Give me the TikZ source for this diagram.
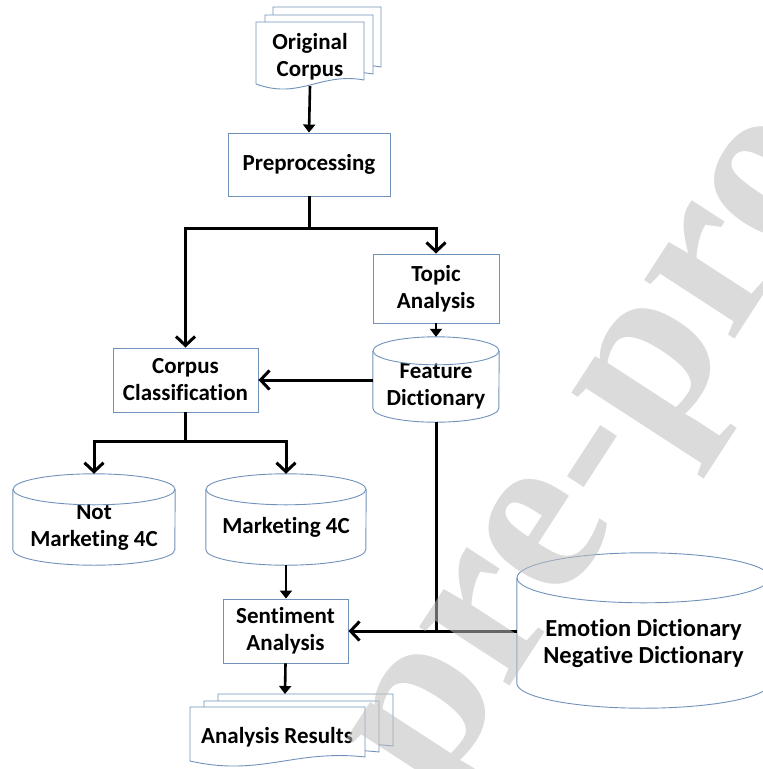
\documentclass[tikz,border=0pt]{standalone}
\usepackage{fontspec}
\setmainfont{Carlito}[Ligatures=NoCommon]
\newfontfamily\wmfont{Liberation Serif}
\usepackage{tikz}
\usetikzlibrary{arrows.meta}
\usetikzlibrary{calc}
\definecolor{edgeblue}{RGB}{112,146,186}
\definecolor{wmgray}{RGB}{189,189,189}

\tikzset{
  stepbox/.style={draw=edgeblue,line width=0.9pt,align=center,inner sep=0pt,
    font=\bfseries\fontsize{23}{27}\selectfont},
  drum/.style={align=center,inner sep=0pt,font=\bfseries\fontsize{23}{27}\selectfont},
  flow/.style={line width=3pt,-{Straight Barb[length=9pt,width=19pt]}},
  short/.style={line width=2.6pt,-{Triangle[length=8pt,width=12pt]}},
  link/.style={line width=3pt},
  wmark/.style={rotate=57,inner sep=0pt,text=wmgray,text opacity=0.54,
    font=\wmfont\bfseries\fontsize{235}{235}\selectfont}
}

% cylinder outline round a named node: node, x radius, y radius
\newcommand\drumline[3]{%
  \draw[edgeblue,line width=0.9pt] (#1.north west) -- ([yshift=#3]#1.south west)
    arc[start angle=180,end angle=360,x radius=#2,y radius=#3] -- (#1.north east);
  \draw[edgeblue,line width=0.9pt] (#1.north) ellipse[x radius=#2,y radius=#3];
}
% one page with a wavy foot: left, top, right, bottom
\newcommand\docpage[4]{%
  \draw[edgeblue,line width=0.9pt,fill=white] (#1,#2) -- (#3,#2) -- (#3,{#4-6})
    .. controls ({#3-0.4*(#3-#1)},{#4-14}) and ({#1+0.4*(#3-#1)},{#4+14}) .. (#1,{#4-2}) -- cycle;
}

\begin{document}
\begin{tikzpicture}[x=1pt,y=-1pt]
    \useasboundingbox (0,0) rectangle (763,769);
    \clip (0,0) rectangle (763,769);

    % document stacks
    \docpage{273}{7}{381}{73}
    \docpage{265}{15}{373}{80}
    \docpage{256}{22}{364}{86}
    \node[drum] (orig) at (310,57) {Original\\Corpus};
    \coordinate (origfoot) at (310,86);

    \docpage{218}{694}{393}{752}
    \docpage{204}{701}{379}{758}
    \docpage{190}{707}{365}{763}
    \node[drum] (res) at (277,737) {Analysis Results};
    \coordinate (restop) at (285,694);

    % boxes
    \node[stepbox,minimum width=162pt,minimum height=63pt] (prep) at (309,164.5) {Preprocessing};
    \node[stepbox,minimum width=126pt,minimum height=69pt] (topic) at (436,288.5) {Topic\\Analysis};
    \node[stepbox,minimum width=145pt,minimum height=64pt] (corpcls) at (185.5,380) {Corpus\\Classification};
    \node[stepbox,minimum width=125pt,minimum height=64pt] (senti) at (285.5,631) {Sentiment\\Analysis};

    % cylinders
    \node[drum,minimum width=126pt,minimum height=71pt] (feat) at (436,386.5) {Feature\\Dictionary};
    \drumline{feat}{63pt}{14pt}
    \node[drum,minimum width=162pt,minimum height=75.5pt] (notmk) at (94,527.25) {Not\\Marketing 4C};
    \drumline{notmk}{81pt}{15.5pt}
    \node[drum,minimum width=160pt,minimum height=75.5pt] (mk) at (286,527.25) {Marketing 4C};
    \drumline{mk}{80pt}{15.5pt}
    \node[drum,minimum width=253pt,minimum height=130pt,font=\bfseries\fontsize{24.5}{27}\selectfont] (emo) at (643.5,643) {Emotion Dictionary\\Negative Dictionary};
    \drumline{emo}{126.5pt}{25pt}

    % connectors
    \draw[short] (origfoot) -- (prep.north);
    \coordinate (split1) at (309,228);
    \draw[link] (prep.south) -- (split1);
    \draw[flow] (split1) -| (corpcls.north);
    \draw[flow] (split1) -| (topic.north);
    \draw[short] (topic.south) -- ([yshift=14pt]feat.north);
    \draw[flow] (feat.west |- corpcls.east) -- (corpcls.east);
    \coordinate (split2) at (185.5,441);
    \draw[link] (corpcls.south) -- (split2);
    \draw[flow] (split2) -| ([yshift=15.5pt]notmk.north);
    \draw[flow] (split2) -| ([yshift=15.5pt]mk.north);
    \draw[short] (mk.south) -- (mk.south |- senti.north);
    \draw[link] (feat.south) -- (feat.south |- senti.east);
    \draw[flow] (emo.west |- senti.east) -- (senti.east);
    \draw[short] (senti.south) -- (restop);

    % watermark
    \coordinate (wm) at (435,801);
    \node[wmark,anchor=base west] (wmtext) at (wm) {pre-proof};
\end{tikzpicture}
\end{document}
